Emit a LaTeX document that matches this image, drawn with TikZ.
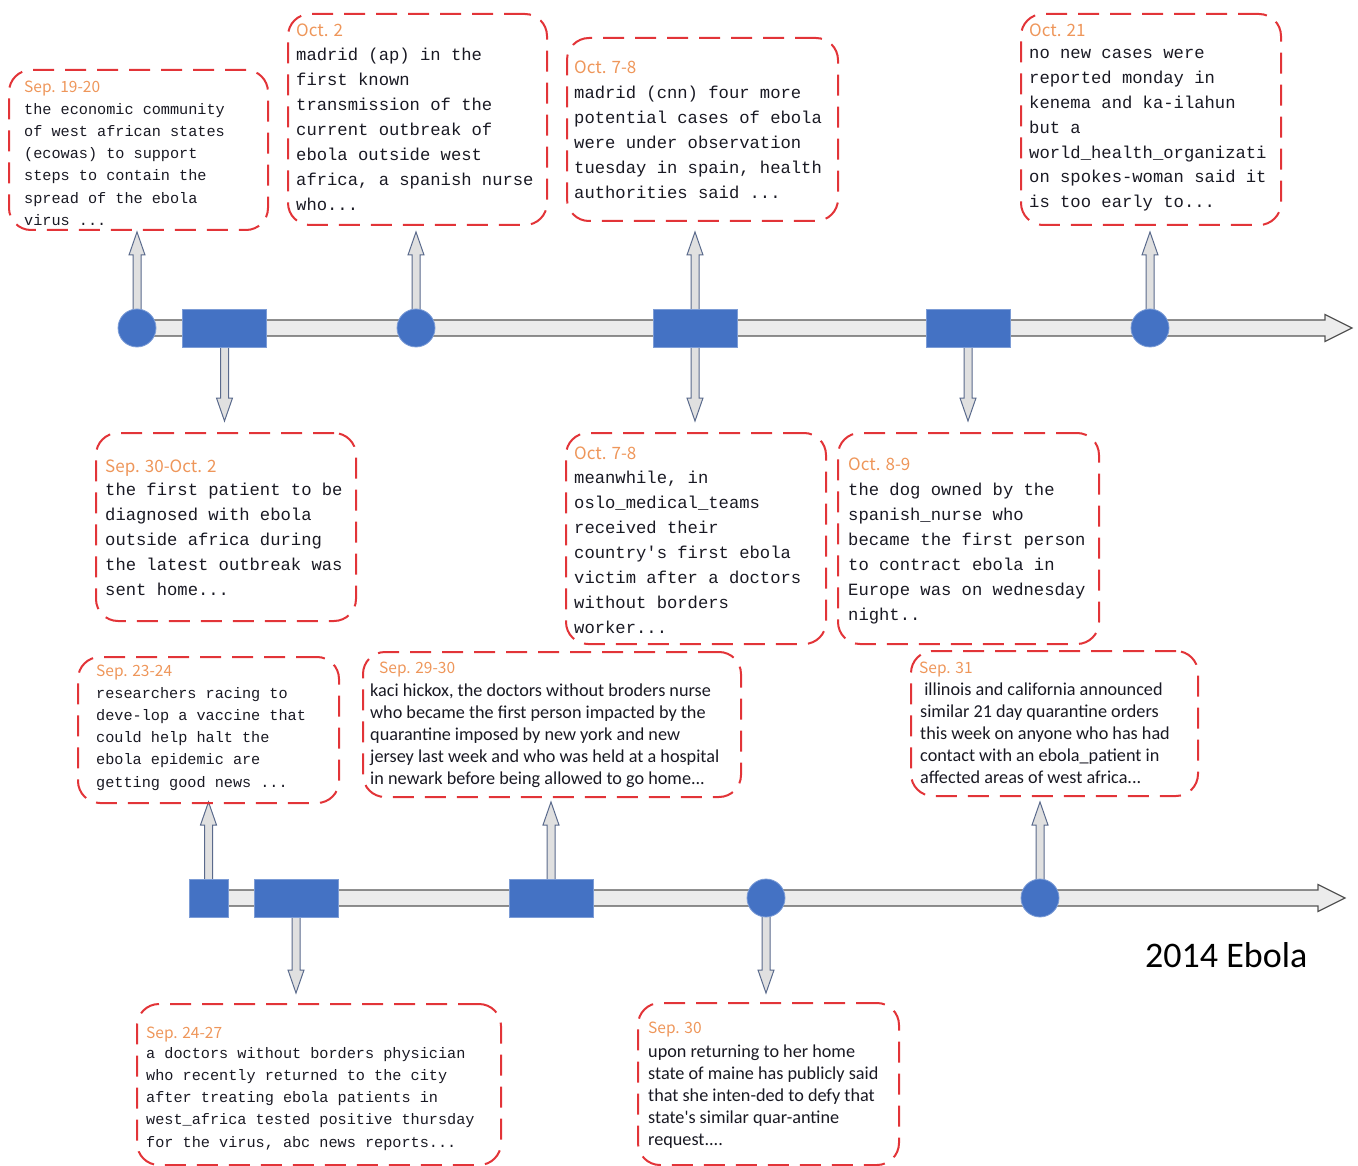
\documentclass[tikz,border=0pt]{standalone}
\usepackage{fontspec}
\usetikzlibrary{calc,backgrounds}
\newfontfamily\monof{Liberation Mono}
\newfontfamily\calf{Carlito}
\newfontfamily\datef{Noto Sans CJK SC}
\definecolor{boxred}{RGB}{226,52,56}
\definecolor{mblue}{RGB}{68,114,196}
\definecolor{dateor}{RGB}{238,150,90}
\definecolor{txt}{RGB}{25,25,35}
\definecolor{arrfill}{RGB}{224,224,224}
\definecolor{arredge}{RGB}{90,106,140}
\definecolor{tlfill}{RGB}{236,236,236}
\definecolor{tledge}{RGB}{85,85,85}
% #1 style, #2 shaft half width, #3 head half width, #4 head length, #5 from, #6 to
\newcommand\blockarrow[6]{%
  \coordinate (bahead) at ($(#6)!#4!(#5)$);
  \filldraw[#1] ($(#5)!#2!90:(#6)$) -- ($(bahead)!#2!90:(#6)$) -- ($(bahead)!#3!90:(#6)$)
    -- (#6) -- ($(bahead)!#3!-90:(#6)$) -- ($(bahead)!#2!-90:(#6)$) -- ($(#5)!#2!-90:(#6)$) -- cycle;
}
\begin{document}
\begin{tikzpicture}[x=1pt,y=-1pt,
  evbox/.style={rectangle, draw=boxred, line width=2pt, dash pattern=on 21pt off 11pt,
    rounded corners=22pt, inner sep=0pt, anchor=north west},
  dot/.style={circle, fill=mblue, draw=mblue!70!white, line width=0.8pt, minimum size=38pt, inner sep=0pt},
  bar/.style={rectangle, fill=mblue, draw=mblue!70!white, line width=0.8pt, minimum width=84pt,
    minimum height=38pt, inner sep=0pt},
  sq/.style={bar, minimum width=39pt},
  tl/.style={fill=tlfill, draw=tledge, line width=1.2pt, line join=miter},
  va/.style={fill=arrfill, draw=arredge, line width=1pt, line join=miter},
  datesm/.style={anchor=base west, inner sep=0pt, text=dateor, font=\datef\fontsize{15.5}{18}\selectfont},
  datelg/.style={anchor=base west, inner sep=0pt, text=dateor, font=\datef\fontsize{17}{20}\selectfont},
  monosm/.style={anchor=north west, inner sep=0pt, align=left, text=txt,
    font=\monof\fontsize{15.2}{22.2}\selectfont, execute at begin node={\rule{0pt}{16pt}}},
  monolg/.style={anchor=north west, inner sep=0pt, align=left, text=txt,
    font=\monof\fontsize{17.2}{24.9}\selectfont, execute at begin node={\rule{0pt}{16pt}}},
  calt/.style={anchor=north west, inner sep=0pt, align=left, text=txt,
    font=\calf\fontsize{18.2}{22}\selectfont, execute at begin node={\rule{0pt}{16pt}}},
]
\useasboundingbox (0,0) rectangle (1358,1166);

% ---------- event boxes ----------
\node[evbox, minimum width=259pt, minimum height=160pt] (bA) at (8,69) {};
\node[evbox, minimum width=259pt, minimum height=211pt] (bB) at (287,13) {};
\node[evbox, minimum width=271pt, minimum height=183pt] (bC) at (566,37) {};
\node[evbox, minimum width=260pt, minimum height=211pt] (bD) at (1020,13) {};
\node[evbox, minimum width=260pt, minimum height=188pt] (bE) at (95,432) {};
\node[evbox, minimum width=260pt, minimum height=211pt] (bF) at (565,432) {};
\node[evbox, minimum width=261pt, minimum height=211pt] (bG) at (837,432) {};
\node[evbox, minimum width=261pt, minimum height=146pt] (bH) at (77,656) {};
\node[evbox, minimum width=378pt, minimum height=145pt] (bI) at (362,651) {};
\node[evbox, minimum width=287pt, minimum height=145pt] (bJ) at (910,650) {};
\node[evbox, minimum width=364pt, minimum height=161pt] (bK) at (136,1003) {};
\node[evbox, minimum width=261pt, minimum height=162pt] (bL) at (637,1002) {};

% ---------- dates ----------
\node[datesm] (dA) at (24,93) {Sep. 19-20};
\node[datelg] (dB) at (296,37) {Oct. 2};
\node[datelg] (dC) at (574,74) {Oct. 7-8};
\node[datelg] (dD) at (1029,37) {Oct. 21};
\node[datelg] (dE) at (105,472) {Sep. 30-Oct. 2};
\node[datelg] (dF) at (574,459) {Oct. 7-8};
\node[datelg] (dG) at (848,470) {Oct. 8-9};
\node[datesm] (dH) at (96,676) {Sep. 23-24};
\node[datesm] (dI) at (379,673) {Sep. 29-30};
\node[datesm] (dJ) at (919,673) {Sep. 31};
\node[datesm] (dK) at (146,1038) {Sep. 24-27};
\node[datesm] (dL) at (648,1033) {Sep. 30};

% ---------- texts ----------
\node[monosm] (tA) at (24,103) {the economic community\\of west african states\\(ecowas) to support\\steps to contain the\\spread of the ebola\\virus ...};
\node[monolg] (tB) at (296,48) {madrid (ap) in the\\first known\\transmission of the\\current outbreak of\\ebola outside west\\africa, a spanish nurse\\who...};
\node[monolg] (tC) at (574,86) {madrid (cnn) four more\\potential cases of ebola\\were under observation\\tuesday in spain, health\\authorities said ...};
\node[monolg] (tD) at (1029,49) {no new cases were\\reported monday in\\kenema and ka-ilahun\\but a\\world\_health\_organizati\\on spokes-woman said it\\is too early to...};
\node[monolg] (tE) at (105,483) {the first patient to be\\diagnosed with ebola\\outside africa during\\the latest outbreak was\\sent home...};
\node[monolg] (tF) at (574,471) {meanwhile, in\\oslo\_medical\_teams\\received their\\country\textquotesingle s first ebola\\victim after a doctors\\without borders\\worker...};
\node[monolg] (tG) at (848,483) {the dog owned by the\\spanish\_nurse who\\became the first person\\to contract ebola in\\Europe was on wednesday\\night..};
\node[monosm] (tH) at (96,687) {researchers racing to\\deve-lop a vaccine that\\could help halt the\\ebola epidemic are\\getting good news ...};
\node[calt] (tI) at (370,684) {kaci hickox, the doctors without broders nurse\\who became the first person impacted by the\\quarantine imposed by new york and new\\jersey last week and who was held at a hospital\\in newark before being allowed to go home...};
\node[calt] (tJ) at (920,683) {\ illinois and california announced\\similar 21 day quarantine orders\\this week on anyone who has had\\contact with an ebola\_patient in\\affected areas of west africa...};
\node[monosm] (tK) at (146,1047) {a doctors without borders physician\\who recently returned to the city\\after treating ebola patients in\\west\_africa tested positive thursday\\for the virus, abc news reports...};
\node[calt] (tL) at (648,1045) {upon returning to her home\\state of maine has publicly said\\that she inten-ded to defy that\\state\textquotesingle s similar quar-antine\\request....};

\node[anchor=base west, inner sep=0pt, text=black, font=\calf\fontsize{36}{40}\selectfont] (title) at (1145,967) {2014 Ebola};

% ---------- timeline markers ----------
\node[dot] (c1) at (137,328) {};
\node[bar] (r1) at (224.5,328) {};
\node[dot] (c2) at (416,328) {};
\node[bar] (r2) at (695,328) {};
\node[bar] (r3) at (968,328) {};
\node[dot] (c3) at (1150,328) {};

\node[sq]  (s1) at (208.5,898) {};
\node[bar] (r4) at (296,898) {};
\node[bar] (r5) at (551,898) {};
\node[dot] (c4) at (766,898) {};
\node[dot] (c5) at (1040,898) {};

% ---------- arrow end points ----------
\coordinate (end1) at (1352,328);
\coordinate (end2) at (1345,898);
\coordinate (u1) at (137,232);
\coordinate (u2) at (416,232);
\coordinate (u3) at (695,232);
\coordinate (u4) at (1150,232);
\coordinate (d1) at (224.5,421);
\coordinate (d2) at (695,421);
\coordinate (d3) at (968,421);
\coordinate (u5) at (208.5,802);
\coordinate (u6) at (551,802);
\coordinate (u7) at (1040,802);
\coordinate (d4) at (296,993);
\coordinate (d5) at (766,993);

\begin{pgfonlayer}{background}
  \blockarrow{tl}{8pt}{13.5pt}{27pt}{c1}{end1}
  \blockarrow{tl}{8pt}{13.5pt}{27pt}{s1}{end2}
  \blockarrow{va}{4pt}{8pt}{23pt}{c1}{u1}
  \blockarrow{va}{4pt}{8pt}{23pt}{c2}{u2}
  \blockarrow{va}{4pt}{8pt}{23pt}{r2}{u3}
  \blockarrow{va}{4pt}{8pt}{23pt}{c3}{u4}
  \blockarrow{va}{4pt}{8pt}{23pt}{r1}{d1}
  \blockarrow{va}{4pt}{8pt}{23pt}{r2}{d2}
  \blockarrow{va}{4pt}{8pt}{23pt}{r3}{d3}
  \blockarrow{va}{4pt}{8pt}{23pt}{s1}{u5}
  \blockarrow{va}{4pt}{8pt}{23pt}{r5}{u6}
  \blockarrow{va}{4pt}{8pt}{23pt}{c5}{u7}
  \blockarrow{va}{4pt}{8pt}{23pt}{r4}{d4}
  \blockarrow{va}{4pt}{8pt}{23pt}{c4}{d5}
\end{pgfonlayer}
\end{tikzpicture}
\end{document}
